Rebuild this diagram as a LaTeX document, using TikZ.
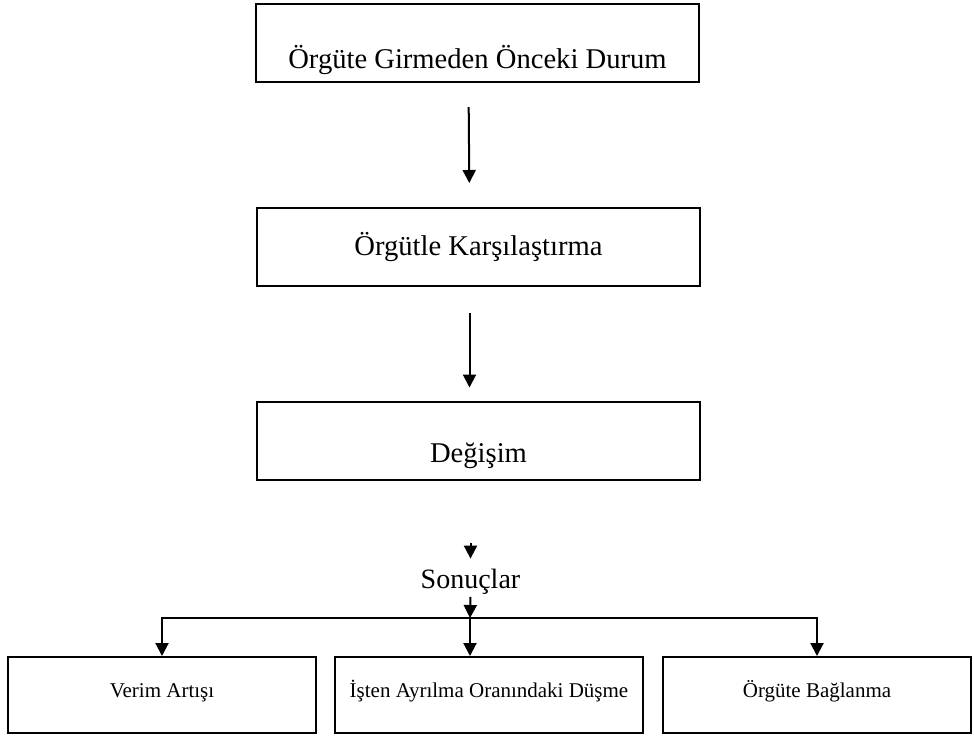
\documentclass[tikz,border=0pt]{standalone}
\usepackage{fontspec}
\setmainfont{Liberation Serif}
\usetikzlibrary{arrows.meta}

\begin{document}
\begin{tikzpicture}[x=0.5pt, y=-0.5pt, >={Triangle[length=6.5pt,width=6.5pt]}, line width=1pt,
		bigbox/.style={draw, minimum width=221.5pt, minimum height=39pt, inner sep=0pt, font=\fontsize{14.3}{17}\selectfont},
		smallbox/.style={draw, minimum width=154pt, minimum height=38pt, inner sep=0pt, text height=7pt, text depth=5pt, font=\fontsize{10.5}{12}\selectfont}]
				\useasboundingbox (0,0) rectangle (974,736);
				
				% 1. Süreç kutuları (üstten alta)
				\node[bigbox, text height=25pt, text depth=0pt] (durum) at (477.5,43) {Örgüte Girmeden Önceki Durum};
				\node[bigbox] (karsi) at (478.5,247) {Örgütle Karşılaştırma};
				\node[bigbox, text height=21.5pt, text depth=0pt] (degisim) at (478.5,440.5) {Değişim};
				
				% 2. Sonuçlar başlığı ve dallanma noktası
				\node[anchor=base, inner sep=0pt, font=\fontsize{14}{17}\selectfont] (sonuc) at (470.5,588) {Sonuçlar};
				\coordinate (kol) at (470,618);
				
				% 3. Sonuç kutuları
				\node[smallbox] (verim) at (162,695) {Verim Artışı};
				\node[smallbox] (ayrilma) at (489,695) {İşten Ayrılma Oranındaki Düşme};
				\node[smallbox] (baglanma) at (817,695) {Örgüte Bağlanma};
				
				% 4. Oklar
				\draw[->, shorten <=12pt, shorten >=12pt] ([xshift=-4.5pt]durum.south) -- ([xshift=-4.5pt]karsi.north);
				\draw[->, shorten <=13pt, shorten >=6.5pt] ([xshift=-4.5pt]karsi.south) -- ([xshift=-4.5pt]degisim.north);
				\draw[->, shorten <=31pt, shorten >=4.5pt] ([xshift=-4pt]degisim.south) -- (sonuc.north);
				\draw[->, shorten <=1pt] (sonuc.south) -- (kol);
				
				% dallanan oklar
				\draw[->] (kol) -- (kol |- ayrilma.north);
				\draw[->] (kol) -| (verim.north);
				\draw[->] (kol) -| (baglanma.north);
\end{tikzpicture}
\end{document}
